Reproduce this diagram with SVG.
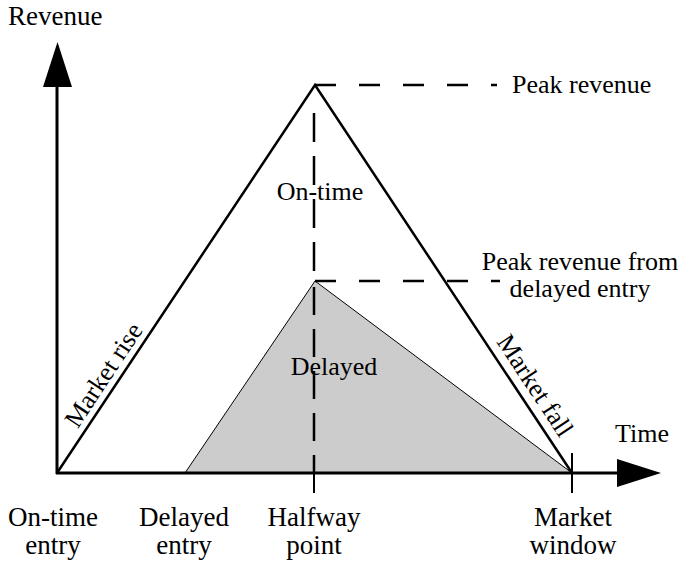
<svg xmlns="http://www.w3.org/2000/svg" width="682" height="565" viewBox="0 0 682 565">
<style>
text { font-family: "Liberation Serif", "Times New Roman", serif; font-size: 26px; fill: #000; }
.axis { stroke: #000; stroke-width: 3; fill: none; }
.edge { stroke: #000; stroke-width: 2.5; fill: none; stroke-linejoin: miter; }
.dash { stroke: #000; stroke-width: 2.5; fill: none; }
.tick { stroke: #000; stroke-width: 2; fill: none; }
.mid { text-anchor: middle; }
.lbl { font-size: 27px; }
</style>
<rect width="682" height="565" fill="#fff"/>
<g id="delayed-area">
  <polygon points="185,473 315,281 572,473" fill="#cccccc" stroke="#000" stroke-width="1"/>
  <text class="mid" x="334" y="375">Delayed</text>
</g>
<g id="connectors">
  <line class="dash" x1="315" y1="85" x2="497" y2="85" stroke-dasharray="21 23"/>
  <line class="dash" x1="315" y1="281" x2="500" y2="281" stroke-dasharray="21 23"/>
  <line class="dash" x1="314" y1="113" x2="314" y2="277" stroke-dasharray="29 14"/>
  <line class="dash" x1="314" y1="287" x2="314" y2="473" stroke-dasharray="28 14"/>
  <line class="tick" x1="314" y1="455" x2="314" y2="493"/>
  <line class="tick" x1="572" y1="453" x2="572" y2="493"/>
</g>
<g id="market-triangle">
  <polyline class="edge" points="57,473 315,85 572,473"/>
  <text x="0" y="0" class="mid" transform="translate(110.6,379.7) rotate(-56.4)">Market rise</text>
  <text x="0" y="0" class="mid" transform="translate(528,390.3) rotate(56.5)">Market fall</text>
  <text class="mid" x="320" y="200">On-time</text>
</g>
<g id="y-axis">
  <line class="axis" x1="57" y1="474" x2="57" y2="84"/>
  <polygon points="57.5,42 43,87 72,87" fill="#000"/>
  <text x="8" y="25" style="font-size:27px">Revenue</text>
</g>
<g id="x-axis">
  <line class="axis" x1="56" y1="473" x2="620" y2="473"/>
  <polygon points="661,473 617,459 617,487" fill="#000"/>
  <text x="615" y="442">Time</text>
</g>
<g id="peak-label">
  <text x="512" y="93">Peak revenue</text>
</g>
<g id="delayed-peak-label">
  <text class="mid" x="580" y="270">Peak revenue from</text>
  <text class="mid" x="580" y="297">delayed entry</text>
</g>
<g id="label-ontime-entry">
  <text class="mid lbl" x="53" y="526">On-time</text>
  <text class="mid lbl" x="53" y="554">entry</text>
</g>
<g id="label-delayed-entry">
  <text class="mid lbl" x="184" y="526">Delayed</text>
  <text class="mid lbl" x="184" y="554">entry</text>
</g>
<g id="label-halfway">
  <text class="mid lbl" x="314" y="526">Halfway</text>
  <text class="mid lbl" x="314" y="554">point</text>
</g>
<g id="label-market-window">
  <text class="mid lbl" x="573" y="526">Market</text>
  <text class="mid lbl" x="573" y="554">window</text>
</g>
</svg>
